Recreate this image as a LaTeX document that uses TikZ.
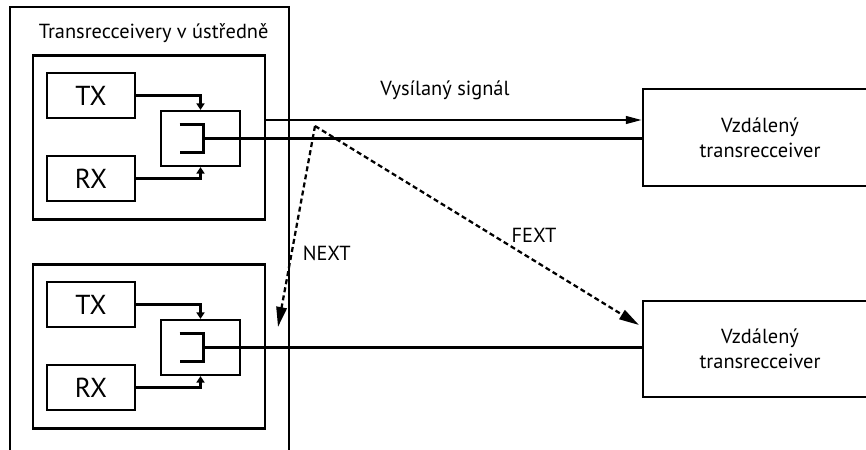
\documentclass[tikz,border=0pt]{standalone}
\usepackage{fontspec}
\setmainfont{PT Sans}
\usetikzlibrary{arrows.meta}

\tikzset{
blok/.style={draw,line width=1.6pt,inner sep=0pt},
txt/.style={font=\fontsize{14.5}{18}\selectfont},
big/.style={font=\fontsize{19.5}{22}\selectfont},
xtalk/.style={line width=1.6pt,dash pattern=on 0.125cm off 0.08cm,-{Triangle[length=0.5cm,width=0.26cm]}},
sipka/.style={-{Triangle[length=0.16cm,width=0.2cm]}}
}

\begin{document}
\begin{tikzpicture}[x=0.025cm,y=-0.025cm,line width=1.6pt]
\useasboundingbox (0,0) rectangle (866,449);

\draw[line width=1.6pt] (10,460)--(10,7)--(289,7)--(289,460);
\node[txt,anchor=west] (title) at (33,33) {Transrecceivery v ústředně};

\foreach \n/\dy in {1/0,2/209}
{
\node[blok,minimum width=5.8cm,minimum height=4.1cm] (box\n) at (149,137.5+\dy) {};
\node[blok,big,minimum width=2.2cm,minimum height=1.125cm] (tx\n) at (91,95.5+\dy) {TX};
\node[blok,big,minimum width=2.2cm,minimum height=1.125cm] (rx\n) at (91,178.5+\dy) {RX};
\node[blok,minimum width=1.975cm,minimum height=1.375cm] (hyb\n) at (200.5,138.5+\dy) {};
\draw[sipka] (tx\n) -| (hyb\n);
\draw[sipka] (rx\n) -| (hyb\n);
\draw (hyb\n.center) ++(-21,-14) -| ++(24,28) -- ++(-24,0);
\coordinate (sp\n) at ([shift={(3,0)}]hyb\n.center);
}

\node[blok,txt,align=center,minimum width=5.85cm,minimum height=2.425cm] (rem1) at (760,137.5) {Vzdálený\\transrecceiver};
\node[blok,txt,align=center,minimum width=5.85cm,minimum height=2.4cm] (rem2) at (760,349) {Vzdálený\\transrecceiver};

\draw (sp1) -- (sp1 -| rem1.west);
\draw (sp2) -- (sp2 -| rem2.west);
\coordinate (sig) at ([shift={(0,-17.5)}]rem1.west);
\draw[-{Triangle[length=0.4cm,width=0.19cm]}] (box1.east |- sig) -- (sig);
\node[txt] (signal) at (445,90) {Vysílaný signál};

\coordinate (xt) at (315,126);
\coordinate (nx) at (278,327);
\coordinate (fx) at (639,325);
\draw[xtalk] (xt) -- (nx);
\draw[xtalk] (xt) -- (fx);
\node[txt,anchor=west] (next) at (297,253) {NEXT};
\node[txt] (fext) at (534,235) {FEXT};
\end{tikzpicture}
\end{document}
